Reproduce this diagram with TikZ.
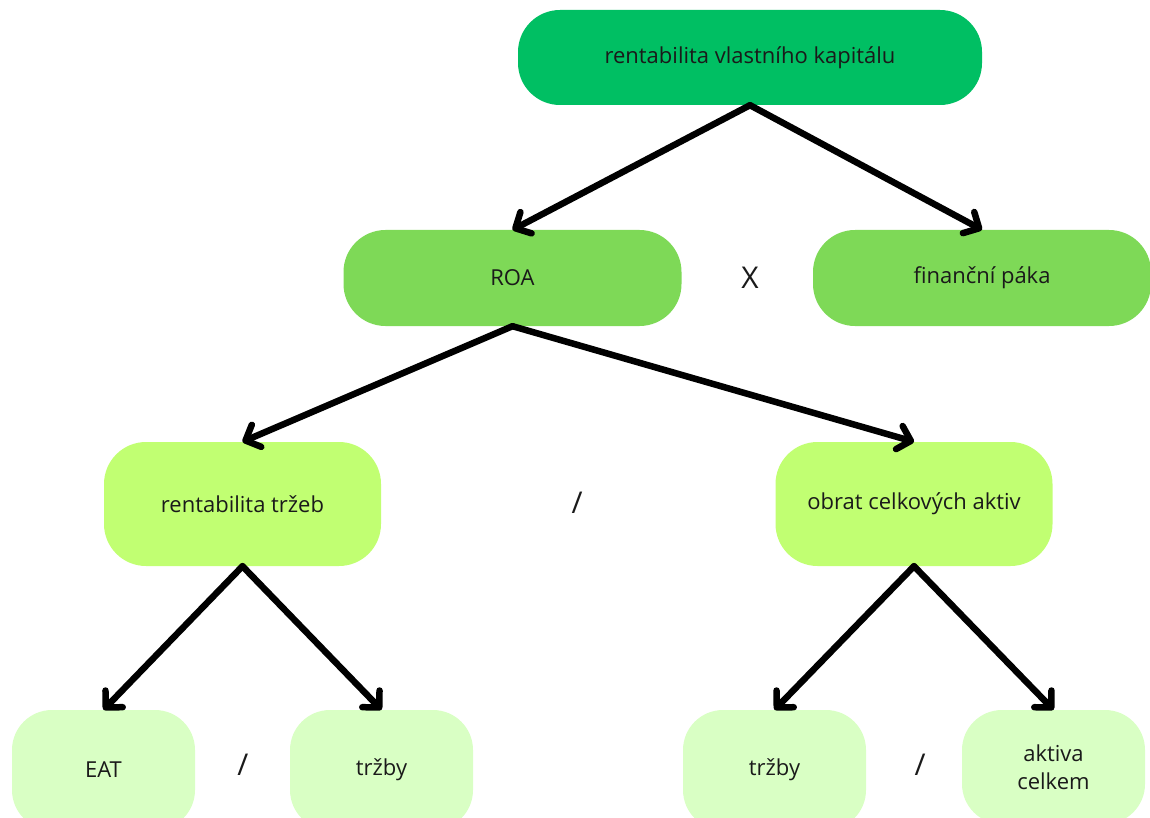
\documentclass[tikz,border=0pt]{standalone}
\usepackage{fontspec}
\setmainfont{Open Sans}
\usetikzlibrary{arrows.meta}
\definecolor{lvA}{HTML}{00BF63}
\definecolor{lvB}{HTML}{7ED957}
\definecolor{lvC}{HTML}{C1FF72}
\definecolor{lvD}{HTML}{D9FFC4}
\definecolor{ink}{HTML}{1A1A1A}
\tikzset{
  box/.style={rectangle, rounded corners=42pt, inner sep=0pt, align=center,
    text=ink, font=\fontsize{22}{28}\selectfont},
  boxA/.style={box, fill=lvA, minimum width=464pt, minimum height=95pt},
  boxB/.style={box, fill=lvB, minimum width=338pt, minimum height=96pt},
  boxC/.style={box, fill=lvC, minimum width=277pt, minimum height=124pt},
  boxD/.style={box, fill=lvD, minimum width=183pt, minimum height=120pt, rounded corners=40pt},
  op/.style={text=ink, font=\fontsize{30}{34}\selectfont},
  link/.style={line width=6.5pt, draw=black, line cap=round,
    -{Straight Barb[length=12pt, width=24pt, line cap=round, line join=round]}}
}
\begin{document}
\begin{tikzpicture}[x=1pt, y=-1pt]
  \useasboundingbox (0,0) rectangle (1150,818);
  \clip (0,0) rectangle (1150,818);
  % level 1
  \node[boxA] (roe) at (750,57.5) {rentabilita vlastního kapitálu};
  % level 2
  \node[boxB] (roa) at (512.5,278) {ROA};
  \node[boxB] (paka) at (982,278) {finanční páka};
  \node[op] (times) at (750,278) {X};
  % level 3
  \node[boxC] (ros) at (242.5,504) {rentabilita tržeb};
  \node[boxC] (obrat) at (914,504) {obrat celkových aktiv};
  \node[op] (div1) at (577,503) {/};
  % level 4
  \node[boxD] (eat) at (103.5,770) {EAT};
  \node[boxD] (trz1) at (381.5,770) {tržby};
  \node[op] (div2) at (243,765) {/};
  \node[boxD] (trz2) at (774.5,770) {tržby};
  \node[boxD, minimum height=114pt] (akt) at (1053.5,767) {aktiva\\celkem};
  \node[op] (div3) at (920,765) {/};
  % connectors
  \draw[link] (roe.south) -- (roa.north);
  \draw[link] (roe.south) -- (paka.north);
  \draw[link] (roa.south) -- (ros.north);
  \draw[link] (roa.south) -- (obrat.north);
  \draw[link] (ros.south) -- (eat.north);
  \draw[link] (ros.south) -- (trz1.north);
  \draw[link] (obrat.south) -- (trz2.north);
  \draw[link] (obrat.south) -- (akt.north);
\end{tikzpicture}
\end{document}
